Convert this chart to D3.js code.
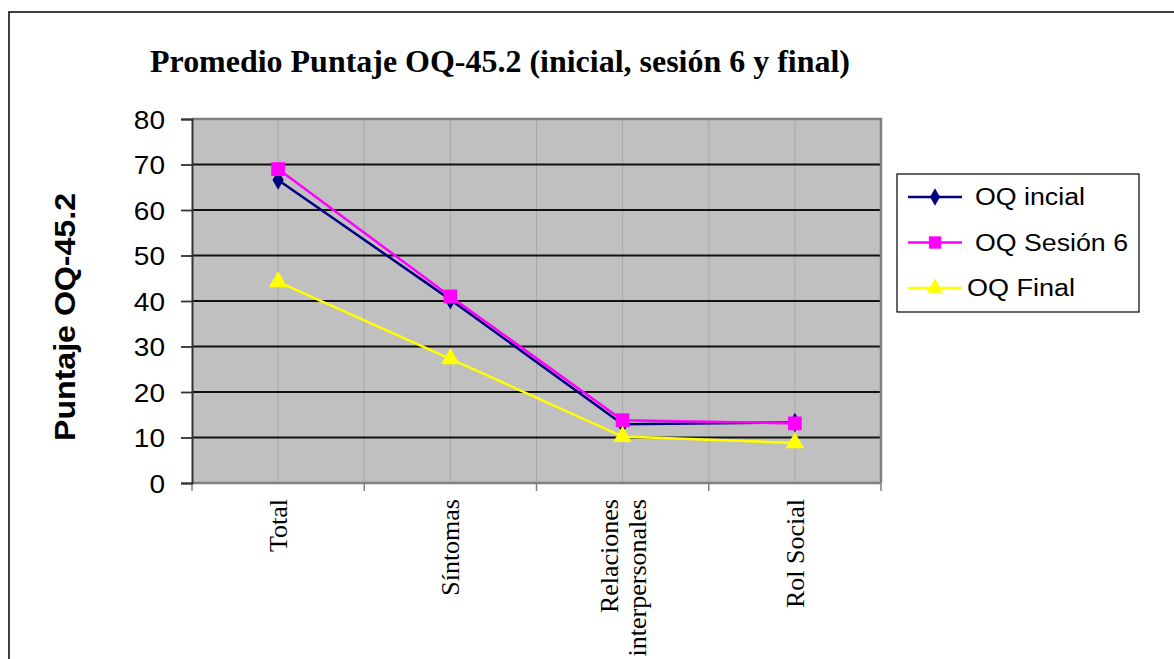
<!DOCTYPE html>
<html>
<head>
<meta charset="utf-8">
<script src="https://cdn.jsdelivr.net/npm/d3@7"></script>
<style>
  html, body { margin: 0; padding: 0; background: #fff; }
  svg { display: block; }
</style>
</head>
<body>
<svg id="chart" width="1174" height="659"></svg>
<script>
// OQ-45.2 mean scores per subscale at three measurement points
const categories = ["Total", "Síntomas", "Relaciones interpersonales", "Rol Social"];
const oqInicial = [66.6, 40.3, 12.9, 13.3];
const oqSesion6 = [69.0, 41.0, 13.8, 13.1];
const oqFinal   = [44.2, 27.3, 10.2, 8.8];
const yTicks = [0, 10, 20, 30, 40, 50, 60, 70, 80];
const seriesNames = ["OQ incial", "OQ Sesión 6", "OQ Final"];

const series = [
  { name: seriesNames[0], values: oqInicial, color: "#000080", symbol: d3.symbolDiamond, size: 110 },
  { name: seriesNames[1], values: oqSesion6, color: "#ff00ff", symbol: d3.symbolSquare, size: 190 },
  { name: seriesNames[2], values: oqFinal,   color: "#ffff00", symbol: d3.symbolTriangle, size: 150 }
];

const svg = d3.select("#chart");
const plot = { left: 192, right: 881, top: 119, bottom: 483 };
const sans = "'Liberation Sans', Arial, sans-serif";
const serif = "'Liberation Serif', 'Times New Roman', serif";

// outer frame
svg.append("path")
  .attr("d", "M9,659 V12 H1174")
  .attr("fill", "none").attr("stroke", "#000").attr("stroke-width", 1.5);

const x = d3.scaleBand().domain(categories).range([plot.left, plot.right]).padding(0);
const y = d3.scaleLinear().domain([0, 80]).range([plot.bottom, plot.top]);

// plot background
svg.append("rect")
  .attr("x", plot.left).attr("y", plot.top)
  .attr("width", plot.right - plot.left).attr("height", plot.bottom - plot.top)
  .attr("fill", "#c0c0c0");

// vertical gridlines at category centres and band boundaries
const vLines = [];
categories.forEach((c, i) => {
  vLines.push(x(c) + x.bandwidth() / 2);
  if (i > 0) vLines.push(x(c));
});
svg.append("g").selectAll("line").data(vLines).join("line")
  .attr("x1", d => d).attr("x2", d => d)
  .attr("y1", plot.top).attr("y2", plot.bottom)
  .attr("stroke", "#a9a9a9").attr("stroke-width", 1);

// horizontal gridlines
svg.append("g").selectAll("line").data(yTicks.filter(t => t > 0 && t < 80)).join("line")
  .attr("x1", plot.left).attr("x2", plot.right)
  .attr("y1", d => y(d)).attr("y2", d => y(d))
  .attr("stroke", "#111").attr("stroke-width", 1.8);

// plot border top/right
svg.append("path")
  .attr("d", `M${plot.left},${plot.top} H${plot.right} V${plot.bottom}`)
  .attr("fill", "none").attr("stroke", "#808080").attr("stroke-width", 2.5);

// x axis
const xAxis = svg.append("g").attr("transform", `translate(0,${plot.bottom})`);
xAxis.append("line")
  .attr("x1", plot.left).attr("x2", plot.right)
  .attr("stroke", "#808080").attr("stroke-width", 2.5);
const xTickPos = categories.map(c => x(c)).concat([plot.right]);
xAxis.selectAll("line.tick").data(xTickPos).join("line").attr("class", "tick")
  .attr("x1", d => d).attr("x2", d => d).attr("y1", 0).attr("y2", 8)
  .attr("stroke", "#808080").attr("stroke-width", 1.5);

// x labels, rotated
const labelLines = {
  "Total": ["Total"],
  "Síntomas": ["Síntomas"],
  "Relaciones interpersonales": ["Relaciones", "interpersonales"],
  "Rol Social": ["Rol Social"]
};
categories.forEach(c => {
  const lines = labelLines[c];
  const cx = x(c) + x.bandwidth() / 2;
  const lh = 28;
  lines.forEach((ln, i) => {
    const off = (i - (lines.length - 1) / 2) * lh;
    svg.append("text")
      .attr("transform", `translate(${cx + off + 9},${plot.bottom + 16}) rotate(-90)`)
      .attr("text-anchor", "end")
      .attr("font-family", serif)
      .attr("font-size", 26)
      .attr("fill", "#000")
      .text(ln);
  });
});

// y axis
const yAxis = d3.axisLeft(y).tickValues(yTicks).tickSize(11).tickPadding(16);
const gy = svg.append("g").attr("transform", `translate(${plot.left},0)`).call(yAxis);
gy.select(".domain").attr("stroke", "#333").attr("stroke-width", 2);
gy.selectAll(".tick line").attr("stroke", "#333").attr("stroke-width", 1.8);
gy.selectAll(".tick text")
  .attr("font-family", sans)
  .attr("font-size", 25).attr("fill", "#000")
  .attr("dy", "0.36em")
  .attr("transform", "scale(1.12,1)")
  .attr("x", -27 / 1.12);

// y axis title
svg.append("text")
  .attr("transform", `translate(75,317) rotate(-90)`)
  .attr("text-anchor", "middle")
  .attr("font-family", sans)
  .attr("font-weight", "bold").attr("font-size", 29)
  .attr("textLength", 248).attr("lengthAdjust", "spacingAndGlyphs")
  .text("Puntaje OQ-45.2");

// title
svg.append("text")
  .attr("x", 150).attr("y", 72)
  .attr("font-family", serif)
  .attr("font-weight", "bold").attr("font-size", 31)
  .attr("textLength", 700).attr("lengthAdjust", "spacingAndGlyphs")
  .text("Promedio Puntaje  OQ-45.2 (inicial, sesión 6 y final)");

// series lines and markers
const line = d3.line()
  .x((d, i) => x(categories[i]) + x.bandwidth() / 2)
  .y(d => y(d));

series.forEach(s => {
  svg.append("path")
    .datum(s.values)
    .attr("d", line)
    .attr("fill", "none").attr("stroke", s.color).attr("stroke-width", 2.5);
});
series.forEach(s => {
  svg.append("g").selectAll("path").data(s.values).join("path")
    .attr("d", d3.symbol().type(s.symbol).size(s.size))
    .attr("transform", (d, i) => `translate(${x(categories[i]) + x.bandwidth() / 2},${y(d)})`)
    .attr("fill", s.color);
});

// legend
const legend = svg.append("g");
legend.append("rect")
  .attr("x", 897).attr("y", 174).attr("width", 242).attr("height", 138)
  .attr("fill", "#fff").attr("stroke", "#000").attr("stroke-width", 1.2);
const legendTextX = [975, 975, 967];
const legendTextLen = [110, 153, 108];
series.forEach((s, i) => {
  const ly = 197 + i * 45.5;
  legend.append("line")
    .attr("x1", 908).attr("x2", 962).attr("y1", ly).attr("y2", ly)
    .attr("stroke", s.color).attr("stroke-width", 2.5);
  legend.append("path")
    .attr("d", d3.symbol().type(s.symbol).size(s.size * 0.8))
    .attr("transform", `translate(935,${ly})`)
    .attr("fill", s.color);
  legend.append("text")
    .attr("x", legendTextX[i]).attr("y", ly + 8)
    .attr("font-family", sans)
    .attr("font-size", 23)
    .attr("textLength", legendTextLen[i]).attr("lengthAdjust", "spacingAndGlyphs")
    .text(s.name);
});
</script>
</body>
</html>
